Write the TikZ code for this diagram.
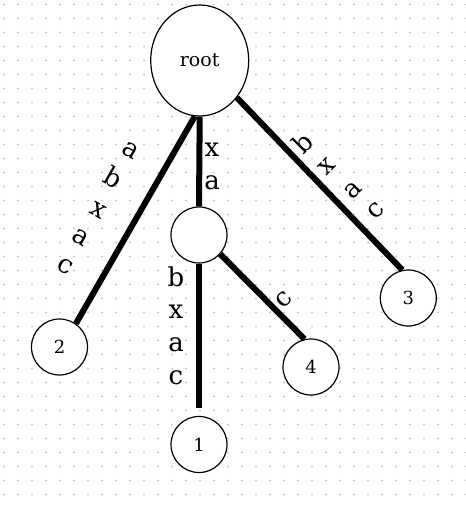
\documentclass[tikz,border=0pt]{standalone}
\usepackage{fontspec}
\setmainfont{DejaVu Serif}
\usepackage{tikz}
\usetikzlibrary{shapes.geometric}

\begin{document}
\begin{tikzpicture}[
		x=0.5pt, y=-0.5pt,
		every node/.style={font=\fontsize{9}{11}\selectfont},
		vertex/.style={draw, circle, fill=white, line width=0.6pt, minimum size=28pt, inner sep=0pt},
		branch/.style={line width=3pt},
		lbl/.style={inner sep=0pt, font=\fontsize{13}{15}\selectfont}
		]
		
		\useasboundingbox (0,0) rectangle (465,507);
		
		% Dot grid
		\foreach \i in {0,...,33}
		\foreach \j in {0,...,36}
		\fill[black!22] (4+14*\i, 4.5+14*\j) circle (0.55pt);
		
		% Nodes
		\node[draw, ellipse, fill=white, line width=0.6pt, minimum width=49pt, minimum height=55.5pt, inner sep=0pt, font=\fontsize{9.5}{11}\selectfont] (root) at (199.7,60.5) {root};
		\node[vertex] (mid) at (199,235) {};
		\node[vertex] (n2) at (59.5,347) {2};
		\node[vertex] (n3) at (408.3,298) {3};
		\node[vertex] (n4) at (311,367) {4};
		\node[vertex] (n1) at (199,444.5) {1};
		
		% Branches
		\draw[branch] (root.-95) -- (n2.55);
		\draw[branch] (root.south) -- (mid.north);
		\draw[branch] (root.-45) -- (n3.102);
		\draw[branch, shorten >=4pt] (mid.south) -- (n1.north);
		\draw[branch] (mid.-42) -- (n4.103);
		
		% Labels: root to 2
		\node[lbl, rotate=-30] (l2a) at (130.7,150.7) {a};
		\node[lbl, rotate=-30] (l2b) at (114,177.3) {b};
		\node[lbl, rotate=-30] (l2c) at (98.3,210) {x};
		\node[lbl, rotate=-30] (l2d) at (80.7,237.3) {a};
		\node[lbl, rotate=-30] (l2e) at (65,266.7) {c};
		
		% Labels: root to middle
		\node[lbl] (lma) at (212,150) {x};
		\node[lbl] (lmb) at (212,183) {a};
		
		% Labels: root to 3
		\node[lbl, rotate=45] (l3a) at (303,142.5) {b};
		\node[lbl, rotate=45] (l3b) at (327.3,166.7) {x};
		\node[lbl, rotate=45] (l3c) at (352.7,190) {a};
		\node[lbl, rotate=45] (l3d) at (375.7,211) {c};
		
		% Labels: middle to 1
		\node[lbl] (l1a) at (176,276.7) {b};
		\node[lbl] (l1b) at (176,311.7) {x};
		\node[lbl] (l1c) at (176,345) {a};
		\node[lbl] (l1d) at (176,377.7) {c};
		
		% Label: middle to 4
		\node[lbl, rotate=45] (l4a) at (284,299.3) {c};
		
	\end{tikzpicture}
\end{document}
